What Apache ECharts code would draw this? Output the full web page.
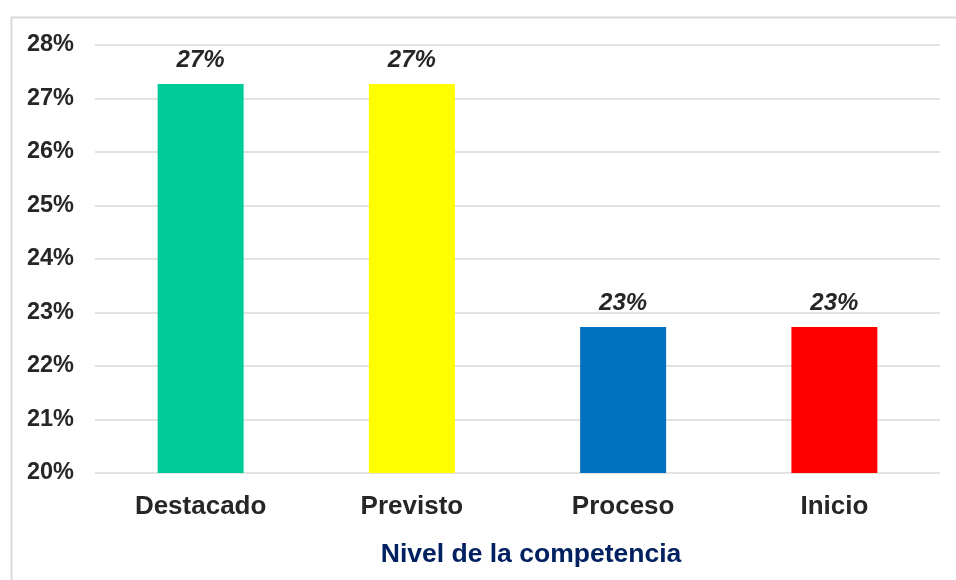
<!DOCTYPE html>
<html><head><meta charset="utf-8">
<script src="https://cdn.jsdelivr.net/npm/echarts@6/dist/echarts.min.js"></script>
<style>html,body{margin:0;padding:0;background:#fff}#c{width:956px;height:580px}</style>
</head><body><div id="c"></div>
<script>
const categories = ['Destacado', 'Previsto', 'Proceso', 'Inicio'];
const values = [27.27, 27.27, 22.73, 22.73];
const colors = ['#00CC99', '#FFFF00', '#0070C0', '#FF0000'];
const axisTitle = 'Nivel de la competencia';

const chart = echarts.init(document.getElementById('c'));
chart.setOption({
  animation: false,
  graphic: [{
    type: 'rect', left: 9, top: 15, silent: true,
    shape: { width: 1000, height: 700 },
    style: { fill: 'none', stroke: '#d9d9d9', lineWidth: 2 }
  }, {
    type: 'text', x: 531, y: 555, silent: true,
    style: { text: axisTitle, fill: '#002060', font: 'bold 26.5px "Liberation Sans", Arial', textAlign: 'center', textVerticalAlign: 'middle' }
  }],
  grid: { left: 95, right: 16, top: 45, bottom: 107, outerBoundsMode: 'none', containLabel: false },
  xAxis: {
    type: 'category', data: categories,
    axisLine: { show: false }, axisTick: { show: false },
    axisLabel: { color: '#262626', fontFamily: 'Liberation Sans, Arial', fontWeight: 'bold', fontSize: 26, margin: 21 }
  },
  yAxis: {
    type: 'value', min: 20, max: 28, interval: 1,
    axisLine: { show: false }, axisTick: { show: false },
    splitLine: { lineStyle: { color: '#d9d9d9', width: 1.5 } },
    axisLabel: { formatter: '{value}%', color: '#262626', fontFamily: 'Liberation Sans, Arial', fontWeight: 'bold', fontSize: 23.5, margin: 21, padding: [4, 0, 0, 0] }
  },
  series: [{
    type: 'bar', barWidth: '40.7%',
    data: values.map((v, i) => ({ value: v, itemStyle: { color: colors[i] } })),
    label: {
      show: true, position: 'top', distance: 12,
      formatter: p => Math.round(p.value) + '%',
      color: '#262626', fontFamily: 'Liberation Sans, Arial', fontWeight: 'bold', fontStyle: 'italic', fontSize: 24
    }
  }]
});
</script></body></html>
